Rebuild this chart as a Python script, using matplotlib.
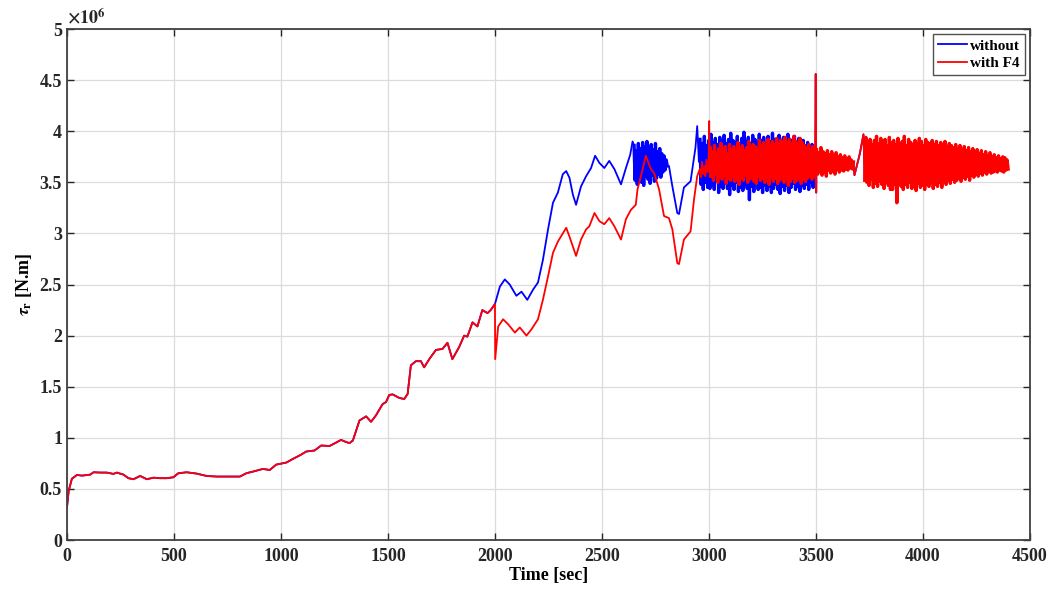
import matplotlib
matplotlib.use('Agg')
import matplotlib.pyplot as plt
import numpy as np
from matplotlib.ticker import FuncFormatter

# values of tau_r in units of 1e6 N.m

# part shared by both runs (0 - 2000 s)
t_common = [0, 8, 23, 47, 70, 109, 124, 155, 186, 217, 233, 264, 287, 311, 342,
            373, 404, 435, 466, 497, 520, 559, 606, 652, 699, 776, 808, 839, 870,
            916, 947, 978, 1025, 1056, 1087, 1118, 1157, 1188, 1227, 1258, 1281,
            1297, 1320, 1336, 1367, 1398, 1421, 1444, 1475, 1491, 1506, 1522, 1553,
            1576, 1592, 1607, 1631, 1654, 1669, 1693, 1724, 1755, 1778, 1801, 1833,
            1856, 1871, 1895, 1918, 1941, 1965, 1980, 2000]
v_common = [0.32, 0.48, 0.60, 0.637, 0.63, 0.64, 0.663, 0.66, 0.66, 0.647, 0.66,
            0.64, 0.605, 0.595, 0.627, 0.595, 0.61, 0.605, 0.605, 0.614, 0.653,
            0.663, 0.65, 0.627, 0.621, 0.621, 0.621, 0.654, 0.67, 0.696, 0.685,
            0.738, 0.758, 0.794, 0.827, 0.866, 0.876, 0.925, 0.92, 0.954, 0.98,
            0.965, 0.948, 0.974, 1.17, 1.21, 1.157, 1.22, 1.33, 1.35, 1.42, 1.425,
            1.39, 1.38, 1.43, 1.71, 1.75, 1.75, 1.69, 1.77, 1.86, 1.87, 1.93, 1.77,
            1.89, 2.0, 1.99, 2.13, 2.09, 2.25, 2.22, 2.25, 2.31]

# "without" after 2000 s
t_blue = [2023, 2046, 2069, 2100, 2124, 2151, 2178, 2201, 2224, 2248, 2271, 2294,
          2317, 2333, 2348, 2364, 2379, 2402, 2426, 2449, 2468, 2488, 2511, 2534,
          2558, 2589, 2612, 2632, 2643]
v_blue = [2.48, 2.55, 2.50, 2.39, 2.43, 2.35, 2.45, 2.52, 2.74, 3.04, 3.30, 3.40,
          3.58, 3.61, 3.545, 3.38, 3.28, 3.46, 3.56, 3.64, 3.76, 3.69, 3.64, 3.71,
          3.63, 3.48, 3.64, 3.77, 3.90]
# oscillating block 2650 - 2805 s (hundredths of 1e6)
blue_block = [386, 352, 381, 348, 388, 355, 383, 350, 389, 347, 385, 356, 390, 353,
              384, 349, 387, 357, 382, 351, 388, 354, 380, 358, 383, 355, 378, 360,
              376, 362, 372, 366]
t_blue_mid = [2813, 2829, 2852, 2860, 2883, 2914, 2937, 2945, 2953]
v_blue_mid = [3.66, 3.46, 3.20, 3.19, 3.45, 3.51, 3.84, 4.05, 3.70]
# oscillating band 2958 - 3497 s
blue_band = [392, 348, 388, 343, 395, 350, 386, 345, 391, 344, 397, 347, 389, 343,
             393, 352, 387, 340, 394, 346, 390, 344, 396, 349, 388, 344, 392, 338,
             398, 347, 391, 343, 389, 350, 395, 341, 387, 345, 393, 342, 399, 348,
             390, 344, 394, 333, 388, 346, 396, 341, 392, 349, 389, 343, 397, 345,
             391, 340, 394, 347, 388, 342, 395, 346, 390, 340, 398, 344, 392, 348,
             387, 343, 396, 339, 391, 346, 394, 342, 389, 347, 397, 340, 392, 345,
             388, 349, 395, 343, 390, 346, 393, 341, 388, 347, 391, 344, 386, 348,
             389, 343, 385, 350, 387, 345, 384, 352]

# "with F4" after 2000 s
t_red = [2001, 2015, 2038, 2062, 2093, 2116, 2147, 2170, 2201, 2224, 2248, 2271,
         2294, 2317, 2333, 2348, 2379, 2402, 2426, 2441, 2465, 2488, 2511, 2534,
         2558, 2589, 2612, 2635, 2658, 2666, 2682, 2705, 2728, 2744, 2767, 2790,
         2813, 2829, 2852, 2860, 2883, 2914, 2930, 2945, 2957, 2962, 2967, 2972,
         2978, 2983, 2988, 2993, 2998, 3001, 3004]
v_red = [1.77, 2.09, 2.16, 2.11, 2.03, 2.08, 2.0, 2.06, 2.16, 2.35, 2.58, 2.81,
         2.92, 3.0, 3.055, 2.97, 2.78, 2.94, 3.04, 3.07, 3.20, 3.12, 3.09, 3.15,
         3.07, 2.94, 3.14, 3.23, 3.28, 3.43, 3.56, 3.76, 3.63, 3.59, 3.43, 3.17,
         3.15, 3.04, 2.71, 2.70, 2.94, 3.02, 3.33, 3.56, 3.63, 3.55, 3.70, 3.58,
         3.66, 3.56, 3.72, 3.60, 3.68, 4.10, 3.55]
# oscillating band 3006 - 3496 s
red_band = [384, 356, 380, 352, 386, 358, 379, 350, 383, 355, 388, 353, 381, 357,
            385, 349, 378, 354, 387, 352, 382, 356, 385, 351, 380, 355, 389, 348,
            383, 354, 386, 352, 381, 357, 384, 350, 390, 353, 382, 355, 387, 351,
            385, 349, 383, 356, 391, 352, 386, 354, 389, 350, 384, 353, 392, 348,
            386, 355, 390, 351, 387, 354, 393, 349, 388, 352, 391, 355, 386, 350,
            394, 353, 389, 347, 392, 351, 388, 354, 395, 350, 390, 352, 387, 355,
            393, 349, 389, 353, 386, 351, 384, 354, 387, 356, 382, 353, 385, 355,
            383]

# tail shared by both runs (after 3500 s)
t_spike = [3499, 3501]
v_spike = [4.56, 3.40]
tail_band1 = [382, 358, 379, 361, 384, 357, 380, 360, 378, 356, 381, 362, 377, 359,
              380, 361, 376, 358, 379, 363, 375, 360, 377, 362, 374, 361, 376, 363,
              373, 362, 375, 364, 372, 363, 370]
t_ramp = [3680, 3705, 3722]
v_ramp = [3.57, 3.78, 3.97]
tail_band2 = [352, 394, 350, 389, 347, 392, 353, 387, 345, 391, 349, 395, 346, 388,
              351, 393, 348, 390, 344, 392, 350, 386, 347, 394, 343, 389, 343, 391,
              348, 387, 330, 393, 349, 388, 346, 390, 343, 395, 348, 386, 345, 392,
              350, 389, 344, 387, 347, 391, 342, 388, 349, 393, 345, 390, 347, 386,
              343, 392, 348, 389, 346, 388, 350, 391, 344, 387, 348, 390, 346, 386,
              350, 389, 345, 387, 351, 390, 348, 385, 352, 388, 349, 386, 353, 384,
              350, 387, 352, 383, 354, 386, 351, 382, 355, 385, 353, 381, 356, 384,
              352, 380, 357, 383, 355, 379, 358, 382, 356, 378, 359, 381, 357, 377,
              360, 380, 358, 376, 361, 379, 359, 375, 360, 377, 361, 374, 360, 376,
              362, 373, 361, 375, 360, 374, 362, 372, 363]


def band(vals, t0, t1):
    return np.linspace(t0, t1, len(vals)), np.array(vals) / 100.0


tb1, vb1 = band(blue_block, 2650, 2805)
tb2, vb2 = band(blue_band, 2958, 3497)
tr1, vr1 = band(red_band, 3006, 3496)
tt1, vt1 = band(tail_band1, 3503, 3675)
tt2, vt2 = band(tail_band2, 3728, 4398)

t_tail = np.concatenate([t_spike, tt1, t_ramp, tt2])
v_tail = np.concatenate([v_spike, vt1, v_ramp, vt2])

t_without = np.concatenate([t_common, t_blue, tb1, t_blue_mid, tb2, t_tail])
v_without = np.concatenate([v_common, v_blue, vb1, v_blue_mid, vb2, v_tail])
t_with = np.concatenate([t_common, t_red, tr1, t_tail])
v_with = np.concatenate([v_common, v_red, vr1, v_tail])

plt.rcParams['font.family'] = 'Liberation Serif'
plt.rcParams['font.weight'] = 'bold'
plt.rcParams['mathtext.fontset'] = 'stix'
plt.rcParams['path.simplify'] = False

fig = plt.figure(figsize=(10.58, 5.90), dpi=100)
ax = fig.add_axes([0.0633, 0.0847, 0.9102, 0.8661])

blue = '#0000ff'
red = '#ff0000'
ax.plot(t_without, v_without, color=blue, linewidth=1.3, label='without')
# the fast oscillations fill a solid band in the original plot
for tb, vb in [(tb1, vb1), (tb2, vb2)]:
    ax.plot(tb, vb, color=blue, linewidth=2.4)
ax.plot(t_with, v_with, color=red, linewidth=1.3, label='with F4')
for tb, vb in [(tr1, vr1), (tt1, vt1), (tt2, vt2)]:
    ax.plot(tb, vb, color=red, linewidth=2.4)

ax.set_xlim(0, 4500)
ax.set_ylim(0, 5)
ax.set_xticks(np.arange(0, 4501, 500))
ax.set_yticks(np.arange(0, 5.01, 0.5))
ax.yaxis.set_major_formatter(FuncFormatter(lambda v, p: '%g' % v))
ax.grid(True, color='#dcdcdc', linewidth=0.9)
ax.set_axisbelow(True)
ax.tick_params(direction='in', top=True, right=True, length=5, width=1,
               labelsize=13, colors='#262626')
ax.tick_params(axis='x', pad=6)
for s in ax.spines.values():
    s.set_color('#404040')
    s.set_linewidth(1.3)

ax.set_xlabel('Time [sec]', fontsize=13, fontweight='bold', labelpad=1)
ax.set_ylabel(r'$\tau_{\mathbf{r}}$ [N.m]', fontsize=13, fontweight='bold', labelpad=4)
ax.text(0.0, 1.003, r'$\times10^{6}$', transform=ax.transAxes, fontsize=13,
        va='bottom', ha='left', color='#262626')

leg = ax.legend(loc='upper right', fontsize=11, frameon=True, fancybox=False,
                borderpad=0.3, labelspacing=0.25, handlelength=1.9, handletextpad=0.2,
                borderaxespad=0.35)
leg.get_frame().set_edgecolor('#262626')
leg.get_frame().set_linewidth(1.0)

plt.savefig('out.png', dpi=100)
